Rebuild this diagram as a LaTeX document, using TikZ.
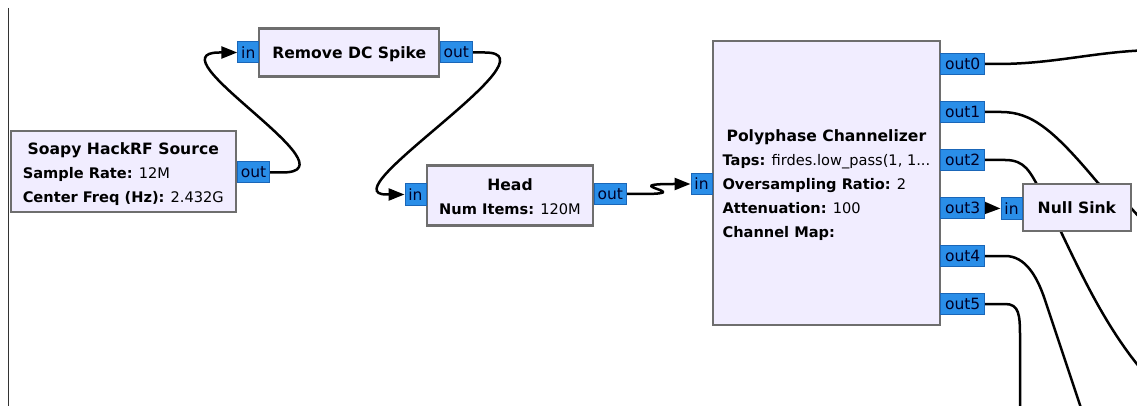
\documentclass[tikz,border=0pt]{standalone}
\usepackage{fontspec}
\setmainfont{DejaVu Sans}
\usetikzlibrary{arrows.meta,backgrounds,calc}

\definecolor{blockfill}{HTML}{F1EDFF}
\definecolor{blockborder}{HTML}{6E6E6E}
\definecolor{portfill}{HTML}{2A8EE8}
\definecolor{portborder}{HTML}{1A66B8}
\definecolor{canvasedge}{HTML}{333333}

\newcommand\blkTitleFont{\fontsize{15.6pt}{24pt}\selectfont\bfseries}
\newcommand\blkParamFont{\fontsize{14.6pt}{24pt}\selectfont}
\newcommand\blkPortFont{\fontsize{15.5pt}{18pt}\selectfont}
% centred title row; the taller strut pushes the text block down a little
\newcommand\btitle[1]{\multicolumn{1}{@{}c@{}}{\rule{0pt}{20.8pt}\blkTitleFont #1}}
\newcommand\pkey[1]{\textbf{#1}}

\tikzset{
  block/.style={draw=blockborder, line width=2.3pt, fill=blockfill, inner sep=0pt,
    font=\blkParamFont, text=black},
  port/.style={draw=portborder, line width=1pt, fill=portfill, inner xsep=0pt,
    inner ysep=0pt, minimum height=21pt, font=\blkPortFont, text=black!85!blue},
  inport/.style={port, minimum width=21pt, anchor=east},
  outport/.style={port, minimum width=32pt, anchor=west},
  chanport/.style={port, minimum width=44pt, anchor=west},
  wire/.style={line width=2.5pt, black},
  arrowwire/.style={wire, -{Triangle[length=16pt,width=12pt]}},
}

\begin{document}
\begin{tikzpicture}[x=1pt,y=-1pt]
\useasboundingbox (0,0) rectangle (1137,406);

% blocks
\node[block, minimum width=225pt, minimum height=81pt] (soapy) at (123.3,171.3)
  {\begin{tabular}{@{}l@{}}\btitle{Soapy HackRF Source}\\
   \pkey{Sample Rate:} 12M\\ \pkey{Center Freq (Hz):} 2.432G\end{tabular}};
\node[block, font=\blkTitleFont, text depth=0pt, minimum width=180pt, minimum height=48pt] (dcspike) at (349.3,52.5)
  {Remove DC Spike};
\node[block, minimum width=166pt, minimum height=60pt] (head) at (510,195.5)
  {\begin{tabular}{@{}l@{}}\btitle{Head}\\ \pkey{Num Items:} 120M\end{tabular}};
\node[block, minimum width=227pt, minimum height=284pt] (poly) at (826.4,183)
  {\begin{tabular}{@{}l@{}}\btitle{Polyphase Channelizer}\\
   \pkey{Taps:} firdes.low\_pass(1, 1...\\
   \pkey{Oversampling Ratio:} 2\\
   \pkey{Attenuation:} 100\\
   \pkey{Channel Map:}\end{tabular}};
\node[block, font=\blkTitleFont, minimum width=108pt, minimum height=47pt] (nullsink) at (1076.9,207.5)
  {Null Sink};

% ports
\node[outport] (soapyout) at (237,172.5) {out};
\node[inport] (dcin) at (259.3,52.5) {in};
\node[outport] (dcout) at (439.8,52.5) {out};
\node[inport] (headin) at (426.5,194.5) {in};
\node[outport] (headout) at (593.8,194) {out};
\node[inport] (polyin) at (712.5,184) {in};
\foreach \k in {0,...,5}{
  \node[chanport] (pout\k) at (940.2,{64+48*\k}) {out\k};
}
\node[inport] (nullin) at (1022.5,208.5) {in};

% free ends of the channel outputs leaving the view
\coordinate (t0) at (1160,50);
\coordinate (t1) at (1180,262);
\coordinate (t2) at (1160,390);
\coordinate (t4) at (1085,420);
\coordinate (t5) at (1020,420);

% canvas, its left edge, and the connections beneath the blocks
\begin{scope}[on background layer]
  \fill[white] (0,0) rectangle (1137,406);
  \draw[canvasedge, line width=1.5pt] (8.7,8) -- (8.7,406);
  \clip (0,0) rectangle (1137,406);
  \draw[arrowwire] (soapyout.east) -- ++(12,0)
    .. controls +(78,0) and +(-70,0) .. ($(dcin.west)+(-18,0)$) -- (dcin.west);
  \draw[arrowwire] (dcout.east) -- ++(12,0)
    .. controls +(76,0) and +(-60,0) .. ($(headin.west)+(-18,0)$) -- (headin.west);
  \draw[arrowwire] (headout.east) -- ++(14,0)
    .. controls +(60,0) and +(-60,0) .. ($(polyin.west)+(-17,0)$) -- (polyin.west);
  \draw[arrowwire] (pout3.east) -- (nullin.west);
  \draw[wire] (pout0.east) -- ++(12,0) .. controls +(60,0) and +(-60,0) .. (t0);
  \draw[wire] (pout1.east) -- ++(16,0) .. controls +(30,0) and +(-45,-54) .. (1098,183)
    -- (1131,208) -- (t1);
  \draw[wire] (pout2.east) -- ++(20,0) .. controls +(20,0) and +(-10,-18) .. (1040,190)
    .. controls +(30,55) and +(-60,-60) .. (t2);
  \draw[wire] (pout4.east) -- ++(20,0) .. controls +(20,0) and +(-8,-24) .. (1045,300) -- (t4);
  \draw[wire] (pout5.east) -- ++(20,0) .. controls +(14,0) and +(0,-22) .. (1020,337) -- (t5);
\end{scope}
\end{tikzpicture}
\end{document}
